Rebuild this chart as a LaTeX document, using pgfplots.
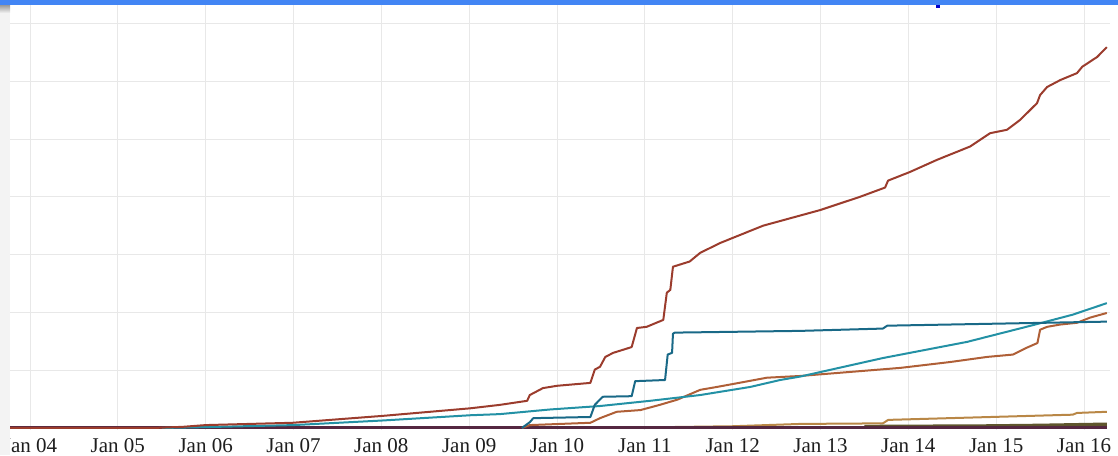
\documentclass[border=0pt]{standalone}
\usepackage{pgfplots}
\pgfplotsset{compat=1.18}
\usepackage{fontspec}
\setmainfont{Liberation Serif}
\definecolor{sA}{RGB}{155,60,45}
\definecolor{sStep}{RGB}{25,105,135}
\definecolor{sSmooth}{RGB}{35,145,165}
\definecolor{sBrown}{RGB}{175,95,55}
\definecolor{sGold}{RGB}{185,135,70}
\definecolor{sOlive}{RGB}{95,85,45}
\definecolor{sBase}{RGB}{85,40,65}
\definecolor{gridc}{RGB}{232,232,232}
\definecolor{barblue}{RGB}{66,133,244}
\definecolor{panel}{RGB}{243,243,243}
\begin{document}
\begin{tikzpicture}
\useasboundingbox (0,0) rectangle (559pt,227.5pt);
\begin{axis}[
  at={(5pt,12.5pt)}, anchor=south west,
  width=550pt, height=215pt, scale only axis,
  xmin=2003.772, xmax=2016.296, ymin=-0.035, ymax=7.405,
  xtick={2004,2005,2006,2007,2008,2009,2010,2011,2012,2013,2014,2015,2016},
  xticklabels={Jan 04,Jan 05,Jan 06,Jan 07,Jan 08,Jan 09,Jan 10,Jan 11,Jan 12,Jan 13,Jan 14,Jan 15,Jan 16},
  ytick={1,2,3,4,5,6,7}, yticklabels={},
  grid=major, major grid style={draw=gridc, line width=0.5pt},
  axis line style={draw=none},
  major tick length=0pt,
  tick label style={font=\fontsize{10.5}{11}\selectfont, text={rgb,255:red,30;green,30;blue,30}},
  xticklabel style={inner sep=0pt, yshift=-4pt},
  line join=round,
]
% gold
\addplot[sGold, line width=1pt] coordinates {
(2010.49,0) (2012.0,0.03) (2012.77,0.07) (2013.71,0.08) (2013.77,0.14) (2015.87,0.23) (2015.92,0.26) (2016.26,0.28)};
% olive band
\addplot[sOlive, line width=2pt] coordinates {
(2013.5,0.02) (2014.9,0.03) (2015.5,0.04) (2016.26,0.06)};
% baseline
\addplot[sBase, line width=1.5pt] coordinates {(2003.772,0) (2016.26,0)};
% brown
\addplot[sBrown, line width=1pt] coordinates {
(2009.60,0) (2009.69,0.05) (2010.38,0.09) (2010.49,0.17) (2010.68,0.28) (2010.95,0.31) (2011.17,0.40) (2011.37,0.49) (2011.63,0.66) (2011.82,0.71) (2012.0,0.76) (2012.39,0.87) (2012.77,0.90) (2013.91,1.04) (2014.47,1.14) (2014.90,1.23) (2015.19,1.27) (2015.35,1.39) (2015.47,1.47) (2015.50,1.70) (2015.58,1.75) (2015.73,1.79) (2015.92,1.82) (2016.07,1.91) (2016.26,1.99)};
% teal smooth
\addplot[sSmooth, line width=1pt] coordinates {
(2005.5,0) (2006.0,0.015) (2007.0,0.05) (2008.02,0.13) (2009.01,0.22) (2009.35,0.24) (2009.92,0.32) (2010.49,0.38) (2011.06,0.47) (2011.63,0.57) (2012.2,0.71) (2012.54,0.83) (2012.77,0.89) (2013.71,1.21) (2014.67,1.49) (2015.42,1.78) (2015.87,1.96) (2016.26,2.16)};
% teal step
\addplot[sStep, line width=1pt] coordinates {
(2009.60,0) (2009.69,0.10) (2009.73,0.17) (2010.38,0.19) (2010.43,0.40) (2010.52,0.54) (2010.85,0.55) (2010.89,0.81) (2011.23,0.83) (2011.26,1.27) (2011.31,1.30) (2011.32,1.63) (2011.34,1.65) (2012.77,1.68) (2013.71,1.72) (2013.76,1.77) (2016.26,1.84)};
% main series
\addplot[sA, line width=1pt] coordinates {
(2003.772,0) (2005.4,0) (2005.74,0.02) (2006.0,0.05) (2006.99,0.09) (2008.02,0.21) (2009.01,0.34) (2009.35,0.40) (2009.66,0.47) (2009.69,0.57) (2009.84,0.69) (2010.0,0.73) (2010.38,0.78) (2010.43,1.01) (2010.49,1.06) (2010.55,1.23) (2010.64,1.30) (2010.85,1.40) (2010.91,1.73) (2011.02,1.75) (2011.21,1.87) (2011.25,2.34) (2011.29,2.39) (2011.32,2.79) (2011.51,2.88) (2011.63,3.03) (2011.856,3.20) (2012.346,3.50) (2012.995,3.77) (2013.45,4.00) (2013.735,4.16) (2013.769,4.28) (2014.019,4.43) (2014.327,4.64) (2014.703,4.87) (2014.93,5.10) (2015.124,5.16) (2015.272,5.33) (2015.465,5.62) (2015.50,5.76) (2015.58,5.90) (2015.73,6.02) (2015.92,6.14) (2015.98,6.25) (2016.15,6.42) (2016.26,6.59)};
\end{axis}
\fill[panel] (0,0) rectangle (5pt,225pt);
\shade[top color=black!40, bottom color=panel] (0,221pt) rectangle (5pt,225pt);
\fill[barblue] (0,225pt) rectangle (559pt,227.5pt);
\fill[blue!80!black] (468pt,223.5pt) rectangle (470pt,225pt);
\end{tikzpicture}
\end{document}
